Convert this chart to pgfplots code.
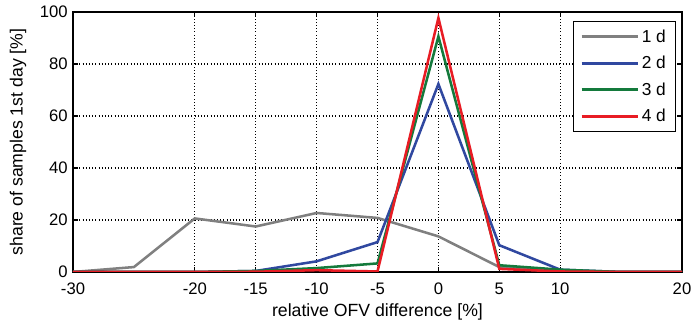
\documentclass[border=0pt]{standalone}
\usepackage{pgfplots}
\pgfplotsset{compat=1.18}
\usepackage{fontspec}
\setmainfont{Liberation Sans}
\definecolor{cgray}{RGB}{128,128,128}
\definecolor{cblue}{RGB}{48,72,160}
\definecolor{cgreen}{RGB}{20,122,60}
\definecolor{cred}{RGB}{232,28,36}
\begin{document}
\begin{tikzpicture}
\begin{axis}[
  scale only axis,
  width=456.75pt, height=195pt,
  xmin=-30, xmax=20, ymin=0, ymax=100,
  xtick={-30,-20,-15,-10,-5,0,5,10,20},
  ytick={0,20,40,60,80,100},
  tick align=inside,
  major tick length=4pt,
  grid=major,
  major grid style={black, dotted, line width=0.8pt},
  axis line style={black, line width=1pt},
  every tick/.style={black, line width=0.8pt},
  font=\fontsize{13.25pt}{15pt}\selectfont,
  tick label style={font=\fontsize{12.5pt}{14pt}\selectfont},
  xticklabel style={yshift=-4.5pt},
  yticklabel style={xshift=-0.5pt},
  /pgf/number format/assume math mode=true,
  xlabel={relative OFV difference [\%]},
  ylabel={share of samples 1st day [\%]},
  every axis x label/.style={at={(axis description cs:0.5,-0.1538)}, anchor=center},
  every axis y label/.style={at={(axis description cs:-0.0903,0.5)}, rotate=90, anchor=center},
  legend style={at={(axis description cs:0.9897,0.9654)}, anchor=north east, draw=black, line width=0.8pt,
    font=\fontsize{13pt}{15pt}\selectfont, inner xsep=5pt, inner ysep=4pt, row sep=5pt},
  legend cell align=left,
  legend image code/.code={\draw[#1, line width=2.2pt] (0pt,0pt) -- (42pt,0pt);},
  every axis plot/.append style={line width=1.9pt},
]
\addplot[cgray] coordinates {(-30,0) (-25,1.9) (-20,20.6) (-15,17.5) (-10,22.7) (-5,20.8) (0,13.7) (5,1.9) (10,0) (15,0) (20,0)};
\addplot[cblue] coordinates {(-30,0) (-25,0) (-20,0) (-15,0.4) (-10,4.1) (-5,11.5) (0,72.3) (5,10.3) (10,0.9) (15,0) (20,0)};
\addplot[cgreen] coordinates {(-30,0) (-25,0) (-20,0) (-15,0.4) (-10,1.5) (-5,3.3) (0,90.6) (5,2.6) (10,0.9) (15,0) (20,0)};
\addplot[cred] coordinates {(-30,0) (-25,0) (-20,0) (-15,0.1) (-10,0.7) (-5,0.2) (0,97.7) (5,1.2) (10,0.2) (15,0) (20,0)};
\legend{1 d, 2 d, 3 d, 4 d}
\end{axis}
\pgfresetboundingbox
\path (-54.75pt,-39pt) rectangle (465pt,204pt);
\end{tikzpicture}
\end{document}
